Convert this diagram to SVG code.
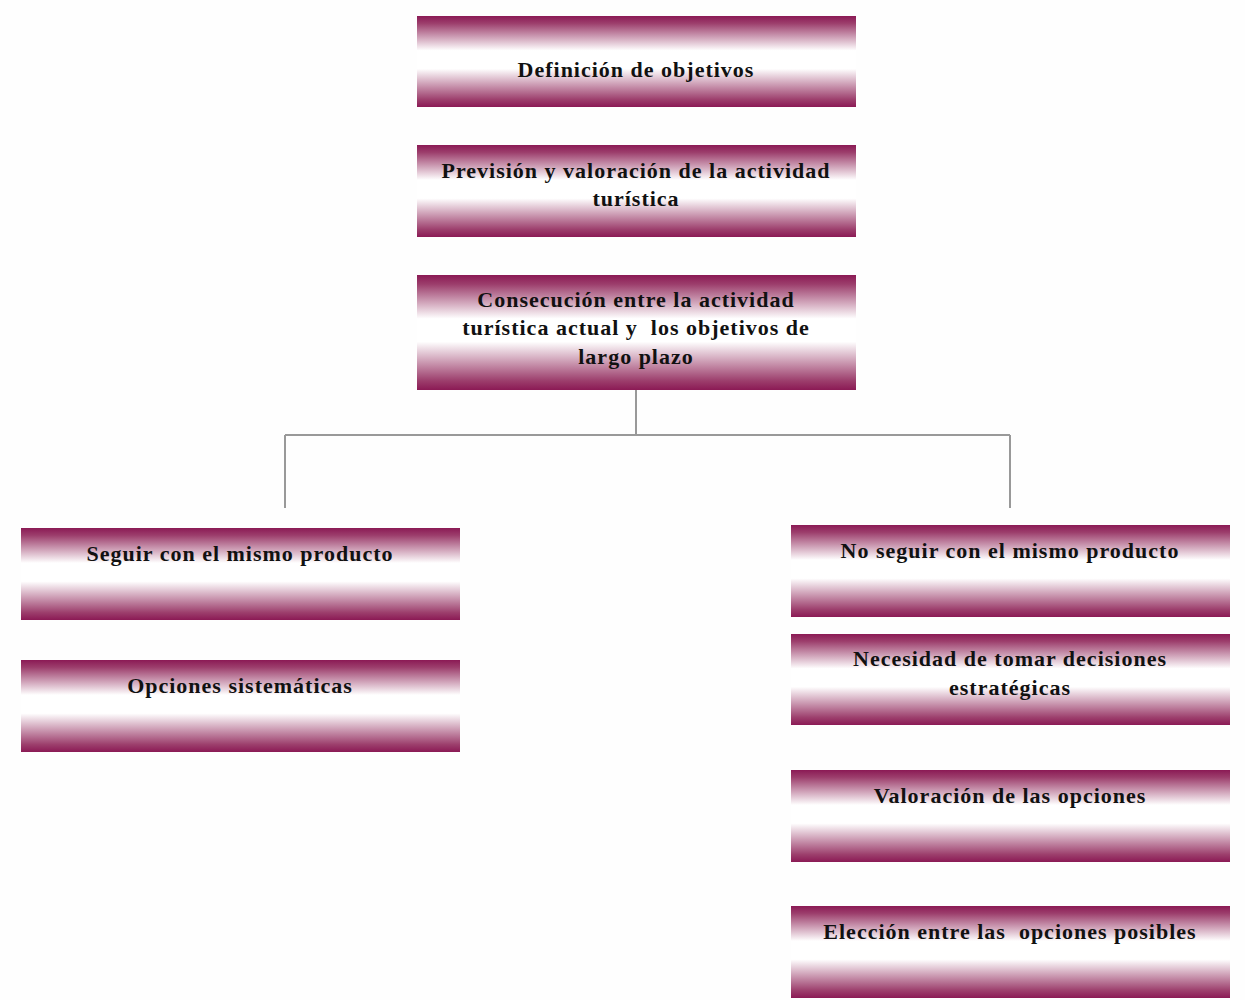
<svg xmlns="http://www.w3.org/2000/svg" width="1245" height="1000" viewBox="0 0 1245 1000">
<defs>
<linearGradient id="g" x1="0" y1="0" x2="0" y2="1">
<stop offset="0" stop-color="#8B1A55"/>
<stop offset="0.08" stop-color="#9c3e6c"/>
<stop offset="0.38" stop-color="#ffffff"/>
<stop offset="0.58" stop-color="#ffffff"/>
<stop offset="0.92" stop-color="#9c3e6c"/>
<stop offset="1" stop-color="#8B1A55"/>
</linearGradient>
<style>
.box{fill:url(#g);}
.t{font-family:"Liberation Serif","Times New Roman",serif;font-weight:bold;font-size:22px;letter-spacing:1px;fill:#111;text-anchor:middle;white-space:pre;}
.c{stroke:#999;stroke-width:2;fill:none;}
</style>
</defs>
<rect width="1245" height="1000" fill="#fefefe"/>
<g id="connectors">
<path class="c" d="M636 390 V435 M285 435 H1010 M285 435 V508 M1010 435 V508"/>
</g>
<g id="n1"><rect class="box" x="417" y="16" width="439" height="91"/><text class="t" x="636" y="77">Definición de objetivos</text></g>
<g id="n2"><rect class="box" x="417" y="145" width="439" height="92"/><text class="t" x="636" y="178">Previsión y valoración de la actividad</text><text class="t" x="636" y="206">turística</text></g>
<g id="n3"><rect class="box" x="417" y="275" width="439" height="115"/><text class="t" x="636" y="307">Consecución entre la actividad</text><text class="t" x="636" y="335">turística actual y  los objetivos de</text><text class="t" x="636" y="364">largo plazo</text></g>
<g id="l1"><rect class="box" x="21" y="528" width="439" height="92"/><text class="t" x="240" y="561">Seguir con el mismo producto</text></g>
<g id="l2"><rect class="box" x="21" y="660" width="439" height="92"/><text class="t" x="240" y="693">Opciones sistemáticas</text></g>
<g id="r1"><rect class="box" x="791" y="525" width="439" height="92"/><text class="t" x="1010" y="558">No seguir con el mismo producto</text></g>
<g id="r2"><rect class="box" x="791" y="634" width="439" height="91"/><text class="t" x="1010" y="666">Necesidad de tomar decisiones</text><text class="t" x="1010" y="695">estratégicas</text></g>
<g id="r3"><rect class="box" x="791" y="770" width="439" height="92"/><text class="t" x="1010" y="803">Valoración de las opciones</text></g>
<g id="r4"><rect class="box" x="791" y="906" width="439" height="92"/><text class="t" x="1010" y="939">Elección entre las  opciones posibles</text></g>
</svg>
